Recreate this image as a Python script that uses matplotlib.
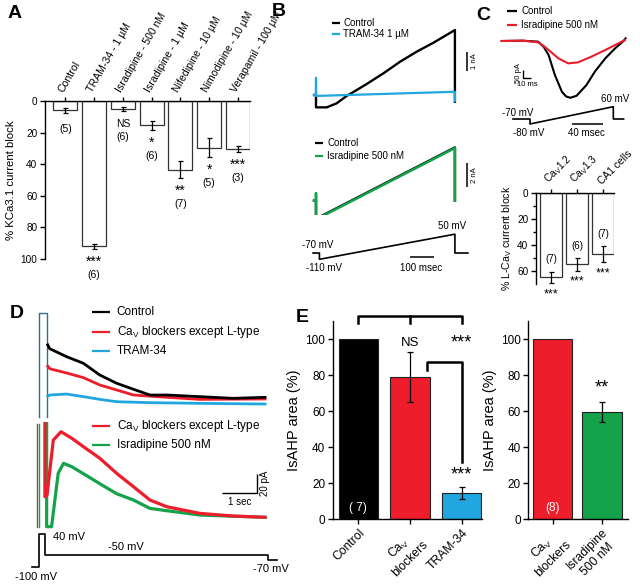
import numpy as np
import matplotlib
matplotlib.use('Agg')
import matplotlib.pyplot as plt
from matplotlib.lines import Line2D

plt.rcParams['font.family'] = ['Liberation Sans', 'DejaVu Sans']
plt.rcParams['mathtext.fontset'] = 'custom'
plt.rcParams['mathtext.rm'] = 'Liberation Sans'
plt.rcParams['mathtext.it'] = 'Liberation Sans:italic'
plt.rcParams['mathtext.bf'] = 'Liberation Sans:bold'
plt.rcParams['axes.linewidth'] = 1.0

# ---------------- data ----------------
# Panel A
A_labels = ['Control', 'TRAM-34 - 1 µM', 'Isradipine - 500 nM', 'Isradipine - 1 µM',
            'Nifedipine - 10 µM', 'Nimodipine - 10 µM', 'Verapamil - 100 µM']
A_block = [6, 92, 5, 15.5, 43.5, 29.5, 30.5]
A_err = [1.5, 1.5, 1.5, 3, 5.5, 6, 2]
A_sig = ['', '***', 'NS', '*', '**', '*', '***']
A_n = ['(5)', '(6)', '(6)', '(6)', '(7)', '(5)', '(3)']

# Panel B traces (time ms, current nA)
B_t_ctrl1 = [-8, 0, 0, 44, 84, 125, 166, 207, 275, 343, 411, 479, 533, 567, 567]
B_I_ctrl1 = [0, 0, -0.65, -0.65, -0.44, -0.05, 0.26, 0.58, 1.14, 1.75, 2.28, 2.75, 3.16, 3.42, -0.35]
B_t_tram = [-8, 0, 0, 0, 567, 567]
B_I_tram = [0, 0, 0.9, -0.05, 0.17, -0.3]
B_t_ctrl2 = [-8, 0, 0, 567, 567]
B_I_ctrl2 = [0, 0, -1.55, 4.55, 0.0]
B_t_isr = [-8, 0, 0, 0, 567, 567]
B_I_isr = [0, 0, 0.63, -1.6, 4.5, 0.0]
B_prot_t = [-12, 14, 14, 567, 567, 620]
B_prot_mV = [-70, -70, -110, 50, -70, -70]

# Panel C traces (time ms, current pA)
C_t_ctrl = [0, 30, 52, 60, 67, 76, 86, 92, 98, 107, 121, 133, 148, 162, 174, 177]
C_I_ctrl = [0, 2, -4, -35, -84, -204, -304, -332, -340, -328, -264, -184, -104, -44, 0, 16]
C_t_isr = [0, 30, 52, 60, 67, 81, 95, 109, 128, 148, 162, 176]
C_I_isr = [0, 2, -8, -30, -54, -104, -134, -128, -94, -54, -24, 6]
C_prot_t = [0, 21.5, 21.5, 127, 127, 140]
C_prot_level = [0, 0, -1, 2.46, 0, 0]      # schematic step levels (-70, -80, +60 mV)
C_labels = ['Ca$_\\mathrm{V}$1.2', 'Ca$_\\mathrm{V}$1.3', 'CA1 cells']
C_block = [65, 55, 47]
C_err = [4.5, 4.7, 6]
C_n = ['(7)', '(6)', '(7)']
C_sig = ['***', '***', '***']

# Panel D traces (time s, current pA)
D_t_ctrl = [0.24, 0.30, 0.78, 1.26, 1.73, 2.21, 2.69, 3.16, 3.64, 4.59, 5.54, 6.45]
D_I_ctrl = [62, 58, 49.8, 43, 30.9, 22.4, 16.2, 10.3, 10.3, 8.6, 6.9, 7.9]
D_t_red1 = [0.24, 0.30, 0.78, 1.26, 1.73, 2.21, 2.69, 3.64, 4.59, 6.45]
D_I_red1 = [40, 37.4, 33, 28.2, 20.6, 15.5, 10.3, 7.9, 5.8, 6.2]
D_t_tram = [0.24, 0.30, 0.78, 1.26, 1.73, 2.21, 3.16, 4.59, 6.45]
D_I_tram = [9, 10.3, 11.3, 8.6, 5.8, 3.4, 2.4, 1.7, 1.0]
D_t_trans1 = [0, 0, 0.22, 0.22]
D_I_trans1 = [-12, 95, 95, -12]
D_t_red2 = [0.16, 0.16, 0.22, 0.40, 0.62, 0.93, 1.26, 1.73, 2.21, 2.69, 3.16, 3.64, 4.59, 5.54, 6.45]
D_I_red2 = [96, 20.6, 22, 79, 87.6, 80.8, 72.2, 60.2, 44.7, 30.9, 17.2, 10.3, 3.4, 0.7, -0.6]
D_t_isr = [0.21, 0.21, 0.35, 0.54, 0.69, 0.93, 1.26, 1.73, 2.21, 2.69, 3.16, 3.64, 4.59, 5.54, 6.45]
D_I_isr = [96, -10.3, -10.3, 44.7, 55, 51.5, 44.3, 34, 23.7, 17.2, 8.6, 6.2, 1.7, 0.5, -0.6]
D_prot_t = [-0.22, 0, 0, 0.16, 0.16, 6.54, 6.54, 6.78]
D_prot_mV = [-100, -100, 40, 40, -50, -50, -70, -70]

# Panel E
E1_labels = ['Control', 'Ca$_\\mathrm{V}$\nblockers', 'TRAM-34']
E1_vals = [100, 79, 14.6]
E1_err = [0, 14, 3.3]
E2_labels = ['Ca$_\\mathrm{V}$\nblockers', 'Isradipine\n500 nM']
E2_vals = [100, 59.6]
E2_err = [0, 5.5]

# colours
BLACK = '#000000'
RED = '#ee1d2c'
CYAN = '#22a6e0'
GREEN = '#14a24a'
TEAL = '#2b6f91'
BROWN = '#7d5a3c'

# ---------------- figure ----------------
W, H = 640, 587
fig = plt.figure(figsize=(6.4, 5.87), dpi=100)


def px_axes(x0, y0, x1, y1):
    return fig.add_axes([x0 / W, 1 - y1 / H, (x1 - x0) / W, (y1 - y0) / H])


def ftxt(x, y, s, **kw):
    kw.setdefault('va', 'center')
    kw.setdefault('ha', 'left')
    return fig.text(x / W, 1 - y / H, s, **kw)


def fline(xs, ys, color='black', lw=1.2):
    fig.add_artist(Line2D([v / W for v in xs], [1 - v / H for v in ys], color=color,
                          lw=lw, transform=fig.transFigure, solid_capstyle='butt'))


def leg(x0, x1, xt, y, color, label, fs):
    fline([x0, x1], [y, y], color=color, lw=1.6)
    ftxt(xt, y, label, fontsize=fs)


def trace_axes(x0, y0, x1, y1):
    ax = px_axes(x0, y0, x1, y1)
    ax.set_axis_off()
    ax.patch.set_alpha(0)
    return ax


# ---------------- Panel A ----------------
axA = px_axes(45, 101, 250, 259)
xA = np.arange(len(A_block))
axA.bar(xA, A_block, width=0.83, color='white', edgecolor='#333333', linewidth=0.9)
axA.errorbar(xA, A_block, yerr=A_err, fmt='none', ecolor='black', elinewidth=0.9,
             capsize=1.8, capthick=0.9)
axA.set_xlim(-0.71, 6.42)
axA.set_ylim(100, 0)
axA.spines['right'].set_visible(False)
axA.spines['bottom'].set_visible(False)
axA.xaxis.tick_top()
axA.set_xticks(xA)
axA.set_xticklabels(A_labels, rotation=60, ha='left', va='bottom', rotation_mode='anchor', fontsize=7.6)
axA.set_yticks([0, 20, 40, 60, 80, 100])
axA.tick_params(axis='y', labelsize=7.2, length=3.5, width=1, pad=2)
axA.tick_params(axis='x', length=3, width=1, pad=2)
axA.set_ylabel('% KCa3.1 current block', fontsize=8.2, labelpad=3)
for i in range(len(A_block)):
    top = A_block[i] + A_err[i]
    if A_sig[i]:
        if A_sig[i] == 'NS':
            axA.text(i, top + 8, 'NS', ha='center', va='center', fontsize=7.5, clip_on=False)
        else:
            axA.text(i, top + 8, A_sig[i], ha='center', va='center', fontsize=10, clip_on=False)
        axA.text(i, top + 16.5, A_n[i], ha='center', va='center', fontsize=7.5, clip_on=False)
    else:
        axA.text(i, top + 10, A_n[i], ha='center', va='center', fontsize=7.5, clip_on=False)

# ---------------- Panel B ----------------
def b_xlim(ax):
    ax.set_xlim((305 - 316) / 0.245, (475 - 316) / 0.245)

axB1 = trace_axes(305, 15, 475, 115)
b_xlim(axB1)
axB1.set_ylim((95 - 115) / 19, (95 - 15) / 19)
axB1.plot(B_t_ctrl1, B_I_ctrl1, color=BLACK, lw=1.7)
axB1.plot(B_t_tram, B_I_tram, color=CYAN, lw=1.6)

axB2 = trace_axes(305, 130, 475, 215)
b_xlim(axB2)
axB2.set_ylim((200.7 - 215) / 11.7, (200.7 - 130) / 11.7)
axB2.plot(B_t_ctrl2, B_I_ctrl2, color=BLACK, lw=1.8)
axB2.plot(B_t_isr, B_I_isr, color=GREEN, lw=1.8)

axB3 = trace_axes(305, 225, 475, 270)
b_xlim(axB3)
axB3.set_ylim(-110 - (270 - 259.3) / 0.157, -110 + (259.3 - 225) / 0.157)
axB3.plot(B_prot_t, B_prot_mV, color=BLACK, lw=1.2)

leg(332, 340, 343, 22.7, BLACK, 'Control', 7)
leg(332, 340, 343, 34.3, CYAN, 'TRAM-34 1 µM', 7)
leg(315, 323, 327, 142.7, BLACK, 'Control', 7)
leg(315, 323, 327, 155.7, GREEN, 'Isradipine 500 nM', 7)
fline([466.7, 466.7], [52.3, 71], lw=1.1)
ftxt(474, 61.5, '1 nA', fontsize=5.5, rotation=90, ha='center')
fline([467.3, 467.3], [163.3, 186.7], lw=1.1)
ftxt(474, 175, '2 nA', fontsize=5.5, rotation=90, ha='center')
ftxt(302, 245, '-70 mV', fontsize=7)
ftxt(306, 268, '-110 mV', fontsize=7)
ftxt(438, 226, '50 mV', fontsize=7)
fline([410, 434], [256.7, 256.7], lw=1.1)
ftxt(400, 268, '100 msec', fontsize=7)

# ---------------- Panel C ----------------
axC1 = trace_axes(495, 30, 635, 103)
axC1.set_xlim((495 - 501.7) / 0.7, (635 - 501.7) / 0.7)
axC1.set_ylim((41 - 103) / 0.167, (41 - 30) / 0.167)
axC1.plot(C_t_ctrl, C_I_ctrl, color=BLACK, lw=1.5)
axC1.plot(C_t_isr, C_I_isr, color=RED, lw=1.5)

axC2 = trace_axes(495, 95, 635, 140)
axC2.set_xlim((495 - 513) / 0.79, (635 - 513) / 0.79)
axC2.set_ylim((119 - 140) / 5, (119 - 95) / 5)
axC2.plot(C_prot_t, C_prot_level, color=BLACK, lw=1.2)

leg(506.7, 516.7, 521, 11, BLACK, 'Control', 7)
leg(506.7, 516.7, 521, 25, RED, 'Isradipine 500 nM', 7)
fline([523.3, 523.3, 530.5], [69.5, 78.3, 78.3], lw=1.0)
ftxt(518, 73, '50 pA', fontsize=5.5, rotation=90, ha='center')
ftxt(527, 85, '10 ms', fontsize=5.5, ha='center')
ftxt(501.5, 112.5, '-70 mV', fontsize=7)
ftxt(513, 133.3, '-80 mV', fontsize=7)
ftxt(601, 99.5, '60 mV', fontsize=7)
fline([571.7, 603.3], [124, 124], lw=1.1)
ftxt(568.3, 133.3, '40 msec', fontsize=7)

axC = px_axes(536, 193, 614, 284)
xC = np.arange(len(C_block))
axC.bar(xC, C_block, width=0.85, color='white', edgecolor='#333333', linewidth=0.9)
axC.errorbar(xC, C_block, yerr=C_err, fmt='none', ecolor='black', elinewidth=0.9,
             capsize=1.8, capthick=0.9)
axC.set_xlim(-0.58, 2.42)
axC.set_ylim(70, 0)
axC.spines['right'].set_visible(False)
axC.spines['bottom'].set_visible(False)
axC.xaxis.tick_top()
axC.set_xticks(xC)
axC.set_xticklabels(C_labels, rotation=45, ha='left', va='bottom', rotation_mode='anchor', fontsize=7.4)
axC.set_yticks([0, 20, 40, 60])
axC.set_yticks([10, 30, 50], minor=True)
axC.tick_params(axis='y', which='major', labelsize=7.2, length=3.5, width=1, pad=2)
axC.tick_params(axis='y', which='minor', length=2, width=1)
axC.tick_params(axis='x', length=3, width=1, pad=2)
axC.set_ylabel('% L-Ca$_\\mathrm{V}$ current block', fontsize=7.6, labelpad=2)
for i in range(len(C_block)):
    axC.text(i, C_block[i] - C_err[i] - 9.5, C_n[i], ha='center', va='center', fontsize=7)
    axC.text(i, C_block[i] + C_err[i] + 8.5, C_sig[i], ha='center', va='center', fontsize=9,
             clip_on=False)

# ---------------- Panel D ----------------
def d_xlim(ax):
    ax.set_xlim((30 - 39.3) / 35, (290 - 39.3) / 35)

axD1 = trace_axes(30, 305, 290, 420)
d_xlim(axD1)
axD1.set_ylim((405 - 420) / 0.97, (405 - 305) / 0.97)
axD1.plot(D_t_trans1, D_I_trans1, color=TEAL, lw=1.0)
axD1.plot(D_t_tram, D_I_tram, color=CYAN, lw=2.0)
axD1.plot(D_t_red1, D_I_red1, color=RED, lw=2.0)
axD1.plot(D_t_ctrl, D_I_ctrl, color=BLACK, lw=2.0)

axD2 = trace_axes(30, 415, 290, 530)
d_xlim(axD2)
axD2.set_ylim((516.7 - 530) / 0.97, (516.7 - 415) / 0.97)
axD2.plot([-0.06, -0.06], [96, -10.3], color=BROWN, lw=1.0)
axD2.plot([0, 0], [96, -10.3], color=GREEN, lw=1.0)
axD2.plot(D_t_isr, D_I_isr, color=GREEN, lw=2.3)
axD2.plot(D_t_red2, D_I_red2, color=RED, lw=2.3)

axD3 = trace_axes(30, 525, 290, 575)
d_xlim(axD3)
axD3.set_ylim(-100 - (575 - 566.7) / 0.233, -100 + (566.7 - 525) / 0.233)
axD3.plot(D_prot_t, D_prot_mV, color=BLACK, lw=1.2)

leg(91.7, 110, 116.7, 312.3, BLACK, 'Control', 8.5)
leg(91.7, 110, 116.7, 331.7, RED, 'Ca$_\\mathrm{V}$ blockers except L-type', 8.5)
leg(91.7, 110, 116.7, 350.7, CYAN, 'TRAM-34', 8.5)
leg(91.7, 110, 116.7, 426, RED, 'Ca$_\\mathrm{V}$ blockers except L-type', 8.5)
leg(91.7, 110, 116.7, 445, GREEN, 'Isradipine 500 nM', 8.5)
fline([221.7, 257.3, 257.3], [493.3, 493.3, 474], lw=1.0)
ftxt(239.5, 502, '1 sec', fontsize=7, ha='center')
ftxt(265, 483, '20 pA', fontsize=7, rotation=90, ha='center')
ftxt(53, 537, '40 mV', fontsize=8)
ftxt(108, 547, '-50 mV', fontsize=8)
ftxt(15, 577, '-100 mV', fontsize=8)
ftxt(253, 568.5, '-70 mV', fontsize=8)

# ---------------- Panel E ----------------
def style_E(ax):
    ax.spines['right'].set_visible(False)
    ax.spines['top'].set_visible(False)
    ax.set_ylim(0, 110)
    ax.set_yticks([0, 20, 40, 60, 80, 100])
    ax.tick_params(axis='y', labelsize=8.5, length=3.5, width=1, pad=2)
    ax.tick_params(axis='x', labelsize=8.7, length=3.5, width=1, pad=2)
    ax.set_ylabel('IsAHP area (%)', fontsize=10.5, labelpad=3)


axE1 = px_axes(333, 321, 482, 519)
xE1 = np.arange(3)
axE1.bar(xE1, E1_vals, width=0.76, color=[BLACK, RED, CYAN], edgecolor='#222222', linewidth=0.8)
axE1.errorbar(xE1[1:], E1_vals[1:], yerr=E1_err[1:], fmt='none', ecolor='black', elinewidth=0.9,
              capsize=2, capthick=0.9)
axE1.set_xlim(-0.49, 2.39)
style_E(axE1)
axE1.set_xticks(xE1)
axE1.set_xticklabels(E1_labels, rotation=45, ha='right', va='top', rotation_mode='anchor',
                     multialignment='center')
# brackets / significance
axE1.plot([0, 0, 2, 2], [108.9, 112.8, 112.8, 108.9], color='black', lw=1.8, clip_on=False)
axE1.plot([1, 1], [112.8, 108.9], color='black', lw=1.8, clip_on=False)
axE1.plot([1.33, 1.33, 2, 2], [82.8, 87.2, 87.2, 31.7], color='black', lw=1.8, clip_on=False)
axE1.text(1, E1_vals[1] + E1_err[1] + 5, 'NS', ha='center', va='center', fontsize=9.5)
axE1.text(2, E1_vals[1] + E1_err[1] + 5, '***', ha='center', va='center', fontsize=13)
axE1.text(2, E1_vals[2] + E1_err[2] + 6.5, '***', ha='center', va='center', fontsize=13)
axE1.text(0, 6, '( 7)', ha='center', va='center', fontsize=8.5, color='white')

axE2 = px_axes(528.3, 321, 627.7, 519)
xE2 = np.arange(2)
axE2.bar(xE2, E2_vals, width=0.79, color=[RED, GREEN], edgecolor='#222222', linewidth=0.8)
axE2.errorbar(xE2[1:], E2_vals[1:], yerr=E2_err[1:], fmt='none', ecolor='black', elinewidth=0.9,
              capsize=2, capthick=0.9)
axE2.set_xlim(-0.49, 1.52)
style_E(axE2)
axE2.set_xticks(xE2)
axE2.set_xticklabels(E2_labels, rotation=45, ha='right', va='top', rotation_mode='anchor',
                     multialignment='center')
axE2.text(1, E2_vals[1] + E2_err[1] + 7.5, '**', ha='center', va='center', fontsize=13)
axE2.text(0, 6, '(8)', ha='center', va='center', fontsize=8.5, color='white')

# ---------------- panel letters ----------------
for lab, x, y in [('A', 8, 13), ('B', 272, 12), ('C', 476, 15), ('D', 10, 313), ('E', 296, 318)]:
    ftxt(x, y, lab, fontsize=14, fontweight='bold')

fig.savefig('out.png', dpi=100)
